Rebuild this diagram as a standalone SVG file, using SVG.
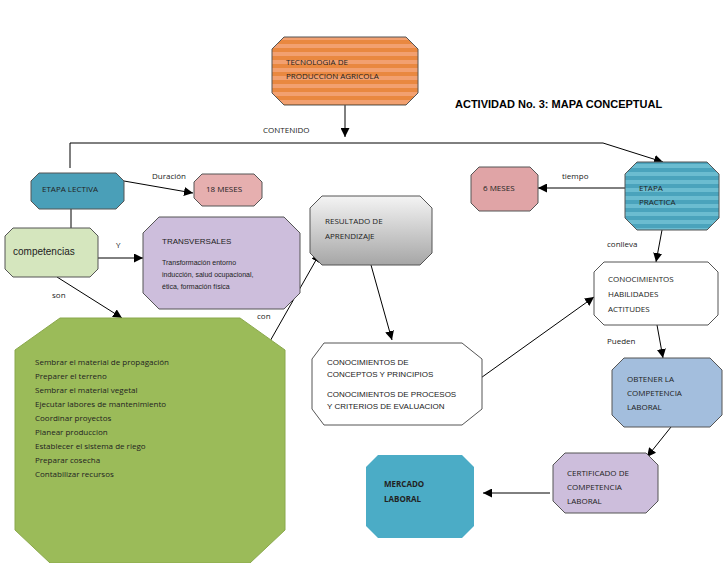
<svg xmlns="http://www.w3.org/2000/svg" width="728" height="563" viewBox="0 0 728 563">
<defs>
<marker id="ah" viewBox="0 0 10 10" refX="10" refY="5" markerWidth="9" markerHeight="9" markerUnits="userSpaceOnUse" orient="auto"><path d="M0,0L10,5L0,10z" fill="#000"/></marker>
<pattern id="orS" width="8" height="8" patternUnits="userSpaceOnUse"><rect width="8" height="8" fill="#F2A070"/><rect width="8" height="4" fill="#E98840"/></pattern>
<pattern id="tlS" width="8" height="8" patternUnits="userSpaceOnUse"><rect width="8" height="8" fill="#6BBCD0"/><rect width="8" height="4" fill="#4AA3BC"/></pattern>
<linearGradient id="gr" x1="0" y1="0" x2="0" y2="1"><stop offset="0" stop-color="#f4f4f4"/><stop offset="1" stop-color="#a6a6a6"/></linearGradient>
</defs>
<style>
text{font-family:"Liberation Sans",Arial,sans-serif;font-size:8px;fill:#222}
.c{font-family:"Open Sans","Liberation Sans",sans-serif;font-size:8px}
.s{font-size:7px}
.e{stroke:#000;stroke-width:1;fill:none}
.b{stroke:#555;stroke-width:1}
</style>
<g id="connectors">
<path class="e" d="M345,105V137" marker-end="url(#ah)"/>
<path class="e" d="M70,168V143H603L663,162" marker-end="url(#ah)"/>
<path class="e" d="M124,181L193,193" marker-end="url(#ah)"/>
<path class="e" d="M71,209V228"/>
<path class="e" d="M98,258H143" marker-end="url(#ah)"/>
<path class="e" d="M57,277L122,318" marker-end="url(#ah)"/>
<path class="e" d="M265,350L320,253" marker-end="url(#ah)"/>
<path class="e" d="M371,265L392,340" marker-end="url(#ah)"/>
<path class="e" d="M478,380L594,297" marker-end="url(#ah)"/>
<path class="e" d="M625,188H538" marker-end="url(#ah)"/>
<path class="e" d="M662,230L656,262" marker-end="url(#ah)"/>
<path class="e" d="M657,325L663,358" marker-end="url(#ah)"/>
<path class="e" d="M671,427L647,457" marker-end="url(#ah)"/>
<path class="e" d="M550,493H483" marker-end="url(#ah)"/>
<text class="c" x="263" y="133">CONTENIDO</text>
<text class="c" x="152" y="179">Duración</text>
<text class="c" x="116" y="248">Y</text>
<text class="c" x="52" y="298">son</text>
<text class="c" x="257" y="319">con</text>
<text class="c" x="562" y="179">tiempo</text>
<text class="c" x="607" y="247">conlleva</text>
<text class="c" x="607" y="344">Pueden</text>
</g>
<text x="455" y="108" style="font-size:11px;font-weight:bold;fill:#000">ACTIVIDAD No. 3: MAPA CONCEPTUAL</text>
<g id="tecnologia"><path class="b" fill="url(#orS)" d="M284,37H406L418,49V93L406,105H284L272,93V49z"/><text class="c" x="286" y="65">TECNOLOGIA DE</text><text class="c" x="286" y="79">PRODUCCION AGRICOLA</text></g>
<g id="lectiva"><path class="b" fill="#4A9FB8" d="M39,173H116L124,181V201L116,209H39L31,201V181z"/><text class="c" x="42" y="192">ETAPA LECTIVA</text></g>
<g id="m18"><path class="b" fill="#E6AFAF" d="M202,174H254L262,182V198L254,206H202L194,198V182z"/><text class="c" x="206" y="192">18 MESES</text></g>
<g id="competencias"><path class="b" fill="#D5E6BE" d="M13,228H90L98,236V269L90,277H13L5,269V236z"/><text x="13" y="255" style="font-size:10px">competencias</text></g>
<g id="transversales"><path class="b" fill="#CDBEDC" d="M159,217H284L300,233V293L284,309H159L143,293V233z"/><text x="162" y="244">TRANSVERSALES</text><text class="s" x="162" y="265">Transformación entorno</text><text class="s" x="162" y="277">inducción, salud  ocupacional,</text><text class="s" x="162" y="289">ética, formación física</text></g>
<g id="acciones"><path fill="#9BBB59" stroke="#8aa84c" d="M60,318H240L285,350V530L250,563H50L15,530V350z"/>
<text class="c" x="35" y="365">Sembrar el material de propagación</text><text class="c" x="35" y="379">Preparer el terreno</text><text class="c" x="35" y="393">Sembrar el material vegetal</text><text class="c" x="35" y="407">Ejecutar  labores de mantenimiento</text><text class="c" x="35" y="421">Coordinar  proyectos</text><text class="c" x="35" y="435">Planear  produccion</text><text class="c" x="35" y="449">Establecer el sistema de riego</text><text class="c" x="35" y="463">Preparar cosecha</text><text class="c" x="35" y="477">Contabilizar recursos</text></g>
<g id="resultado"><path class="b" fill="url(#gr)" d="M322,196H420L432,208V253L420,265H322L310,253V208z"/><text class="c" x="325" y="224">RESULTADO DE</text><text class="c" x="325" y="239">APRENDIZAJE</text></g>
<g id="conceptos"><path class="b" fill="#fff" d="M324,343H462L482,359V409L462,425H324L312,409V359z"/><text x="327" y="365">CONOCIMIENTOS DE</text><text x="327" y="377">CONCEPTOS Y PRINCIPIOS</text><text x="327" y="397">CONOCIMIENTOS DE PROCESOS</text><text x="327" y="409">Y CRITERIOS DE EVALUACION</text></g>
<g id="practica"><path class="b" fill="url(#tlS)" d="M637,162H707L719,174V218L707,230H637L625,218V174z"/><text class="c" x="639" y="191">ETAPA</text><text class="c" x="639" y="205">PRACTICA</text></g>
<g id="m6"><path class="b" fill="#E0A4A6" d="M479,167H530L538,175V203L530,211H479L471,203V175z"/><text class="c" x="483" y="191">6 MESES</text></g>
<g id="habilidades"><path class="b" fill="#fff" d="M604,262H708L718,272V315L708,325H604L594,315V272z"/><text class="c" x="608" y="282">CONOCIMIENTOS</text><text class="c" x="608" y="297">HABILIDADES</text><text class="c" x="608" y="312">ACTITUDES</text></g>
<g id="obtener"><path class="b" fill="#A3BEDD" d="M624,358H710L722,370V415L710,427H624L612,415V370z"/><text class="c" x="627" y="382">OBTENER LA</text><text class="c" x="627" y="396">COMPETENCIA</text><text class="c" x="627" y="410">LABORAL</text></g>
<g id="certificado"><path class="b" fill="#CDBEDC" d="M565,453H646L658,465V501L646,513H565L553,501V465z"/><text class="c" x="567" y="476">CERTIFICADO DE</text><text class="c" x="567" y="490">COMPETENCIA</text><text class="c" x="567" y="504">LABORAL</text></g>
<g id="mercado"><path fill="#4BACC6" d="M378,455H462L474,467V526L462,538H378L366,526V467z"/><text class="c" x="384" y="487" style="font-weight:bold">MERCADO</text><text class="c" x="384" y="502" style="font-weight:bold">LABORAL</text></g>
</svg>
